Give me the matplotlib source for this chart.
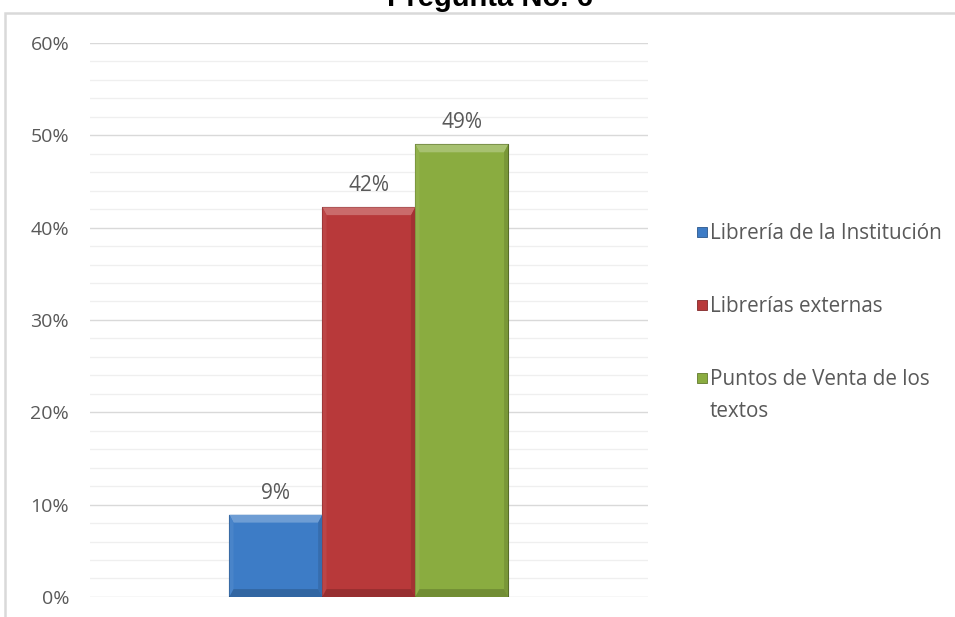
import matplotlib
matplotlib.use("Agg")
import matplotlib.pyplot as plt
from matplotlib.patches import Rectangle
from matplotlib.ticker import MultipleLocator, PercentFormatter
import matplotlib.colors as mcolors

categories = ["Librería de la Institución", "Librerías externas", "Puntos de Venta de los\ntextos"]
values = [0.089, 0.422, 0.490]
colors = ["#3d7cc6", "#b8393a", "#8aac40"]
yticks = [0, 0.1, 0.2, 0.3, 0.4, 0.5, 0.6]
title = "Pregunta No. 6"

plt.rcParams['font.family'] = ['Open Sans', 'DejaVu Sans']


def shade(c, f):
    r, g, b = mcolors.to_rgb(c)
    if f >= 0:
        return (r + (1 - r) * f, g + (1 - g) * f, b + (1 - b) * f)
    return (r * (1 + f), g * (1 + f), b * (1 + f))


fig = plt.figure(figsize=(9.55, 6.17), dpi=100)
ax = fig.add_axes([0.0942, 0.0325, 0.584, 0.898])

xs = [-1, 0, 1]
w = 1.0
bars = ax.bar(xs, values, width=w, color=colors, edgecolor=[shade(c, -0.45) for c in colors],
              linewidth=0.8, zorder=3)

# bevel effect
dx, dy = 0.045, 0.0085
for x, v, c in zip(xs, values, colors):
    x0, x1 = x - w / 2, x + w / 2
    ax.fill([x0, x1, x1 - dx, x0 + dx], [v, v, v - dy, v - dy], color=shade(c, 0.25), zorder=4, lw=0)
    ax.fill([x0, x0 + dx, x0 + dx, x0], [0, dy, v - dy, v], color=shade(c, 0.06), zorder=4, lw=0)
    ax.fill([x1, x1 - dx, x1 - dx, x1], [0, dy, v - dy, v], color=shade(c, -0.12), zorder=4, lw=0)
    ax.fill([x0, x1, x1 - dx, x0 + dx], [0, 0, dy, dy], color=shade(c, -0.18), zorder=4, lw=0)

for x, v in zip(xs, values):
    ax.annotate(f"{v:.0%}", (x, v), xytext=(0, 11.5), textcoords="offset points",
                ha="center", va="baseline", fontsize=15, color="#595959")

ax.set_xlim(-3, 3)
ax.set_ylim(0, 0.6)
ax.set_yticks(yticks)
ax.yaxis.set_major_formatter(PercentFormatter(1.0, decimals=0))
ax.yaxis.set_minor_locator(MultipleLocator(0.02))
ax.set_xticks([])
ax.tick_params(axis='y', which='both', length=0, pad=15, labelsize=14, labelcolor="#595959")
ax.grid(axis='y', which='major', color="#d9d9d9", linewidth=1.0, zorder=0)
ax.grid(axis='y', which='minor', color="#efefef", linewidth=0.9, zorder=0)
for s in ax.spines.values():
    s.set_visible(False)

# chart area frame
fig.patches.append(Rectangle((5 / 955, -0.05), 1.1, 1 - 13 / 617 + 0.05, transform=fig.transFigure,
                             fill=False, edgecolor="#d9d9d9", linewidth=1.8, zorder=0))

fig.text(490 / 955, 1 - 6 / 617, title, ha="center", va="baseline", fontsize=21,
         fontweight="bold", family="Liberation Sans", color="black")

# legend
leg_base = [239, 312, 385]
line_gap = 32
for lab, c, yb in zip(categories, colors, leg_base):
    yc = yb - 7
    fig.patches.append(Rectangle((697 / 955, 1 - (yc + 5) / 617), 10 / 955, 10 / 617,
                                 transform=fig.transFigure, facecolor=c,
                                 edgecolor=shade(c, -0.3), linewidth=0.6))
    for i, line in enumerate(lab.split("\n")):
        fig.text(710 / 955, 1 - (yb + i * line_gap) / 617, line, ha="left", va="baseline",
                 fontsize=14.9, color="#595959")

fig.savefig("out.png", dpi=100)
